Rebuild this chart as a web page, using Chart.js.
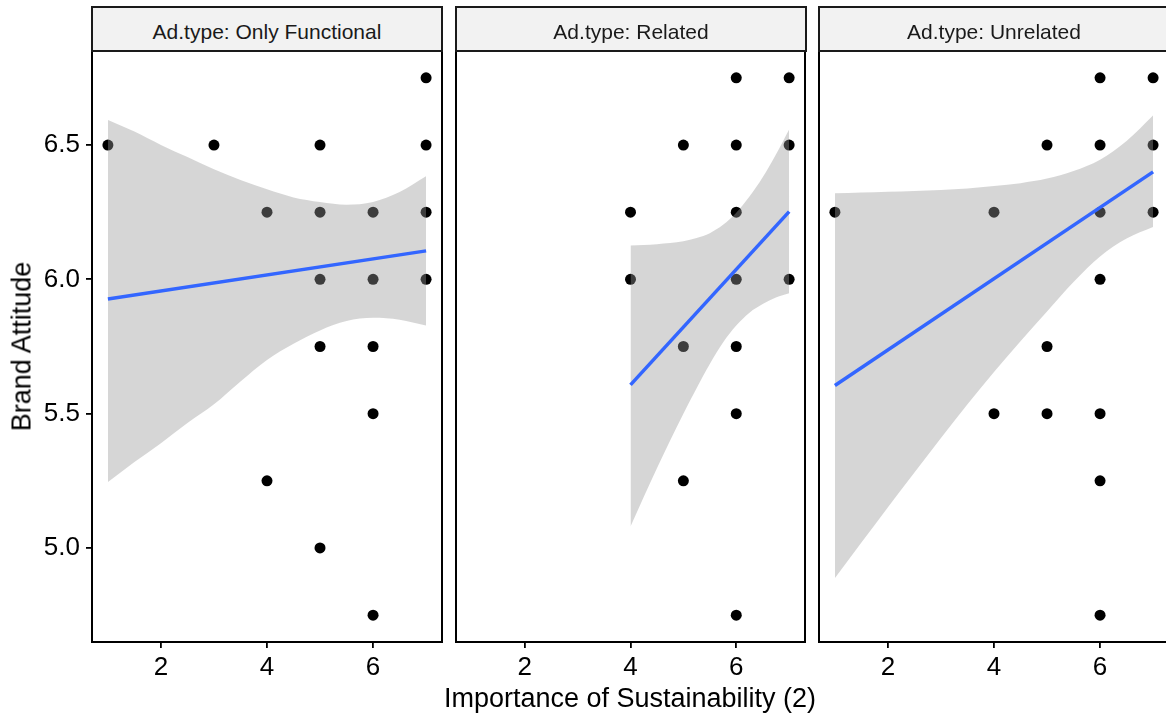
<!DOCTYPE html>
<html>
<head>
<meta charset="utf-8">
<script src="https://cdn.jsdelivr.net/npm/chart.js@4/dist/chart.umd.min.js"></script>
<style>
html,body{margin:0;padding:0;width:1166px;height:722px;overflow:hidden;background:#fff;font-family:"Liberation Sans",Arial,sans-serif;}
canvas{position:absolute;left:0;top:0;}
.strip{position:absolute;top:6px;height:46px;box-sizing:border-box;border:2px solid #1a1a1a;background:#f2f2f2;color:#1a1a1a;font-size:21px;line-height:21px;text-align:center;padding-top:13px;white-space:nowrap;z-index:2;}
.title{position:absolute;font-size:27px;line-height:27px;color:#000;text-align:center;white-space:nowrap;z-index:2;}
</style>
</head>
<body>
<canvas id="c1" width="1166" height="722"></canvas>
<canvas id="c2" width="1166" height="722"></canvas>
<canvas id="c3" width="1176" height="722"></canvas>
<div id="strips"></div>
<div class="title" id="ytitle" style="left:-178px;top:333px;width:400px;height:27px;transform:rotate(-90deg);">Brand Attitude</div>
<div class="title" id="xtitle" style="left:330px;top:685px;width:600px;">Importance of Sustainability (2)</div>
<script>
// ---- data ----
const panelTitles = ['Ad.type: Only Functional', 'Ad.type: Related', 'Ad.type: Unrelated'];
const xTickValues = [2, 4, 6];
const yTickValues = [5.0, 5.5, 6.0, 6.5];

// Only Functional
const funcX = [1, 3, 5, 7, 7, 4, 5, 6, 7, 5, 6, 7, 5, 6, 6, 4, 5, 6];
const funcY = [6.5, 6.5, 6.5, 6.5, 6.75, 6.25, 6.25, 6.25, 6.25, 6.0, 6.0, 6.0, 5.75, 5.75, 5.5, 5.25, 5.0, 4.75];
const funcBandX = [1, 1.5, 2, 2.5, 3, 3.5, 4, 4.5, 5, 5.5, 6, 6.5, 7];
const funcUpper = [6.593, 6.55, 6.50, 6.455, 6.41, 6.37, 6.335, 6.305, 6.288, 6.278, 6.288, 6.325, 6.384];
const funcLower = [5.245, 5.32, 5.39, 5.465, 5.535, 5.62, 5.70, 5.76, 5.81, 5.845, 5.857, 5.85, 5.828];
const funcFitX = [1, 7];
const funcFitY = [5.927, 6.106];

// Related
const relX = [6, 7, 5, 6, 7, 4, 6, 4, 6, 7, 5, 6, 6, 5, 6];
const relY = [6.75, 6.75, 6.5, 6.5, 6.5, 6.25, 6.25, 6.0, 6.0, 6.0, 5.75, 5.75, 5.5, 5.25, 4.75];
const relBandX = [4, 4.25, 4.5, 4.75, 5, 5.25, 5.5, 5.75, 6, 6.25, 6.5, 6.75, 7];
const relUpper = [6.126, 6.128, 6.131, 6.135, 6.142, 6.154, 6.172, 6.203, 6.248, 6.308, 6.38, 6.465, 6.558];
const relLower = [5.08, 5.19, 5.297, 5.40, 5.50, 5.595, 5.685, 5.765, 5.828, 5.876, 5.908, 5.932, 5.948];
const relFitX = [4, 7];
const relFitY = [5.607, 6.252];

// Unrelated
const unrelX = [6, 7, 5, 6, 7, 1, 4, 6, 7, 6, 5, 4, 5, 6, 6, 6];
const unrelY = [6.75, 6.75, 6.5, 6.5, 6.5, 6.25, 6.25, 6.25, 6.25, 6.0, 5.75, 5.5, 5.5, 5.5, 5.25, 4.75];
const unrelBandX = [1, 1.5, 2, 2.5, 3, 3.5, 4, 4.5, 5, 5.5, 6, 6.5, 7];
const unrelUpper = [6.32, 6.323, 6.326, 6.329, 6.333, 6.338, 6.347, 6.358, 6.375, 6.403, 6.445, 6.515, 6.61];
const unrelLower = [4.888, 5.02, 5.152, 5.281, 5.409, 5.535, 5.655, 5.77, 5.88, 5.99, 6.085, 6.152, 6.195];
const unrelFitX = [1, 7];
const unrelFitY = [5.605, 6.40];

// ---- rendering ----
Chart.defaults.font.family = "'Liberation Sans', Arial, sans-serif";
Chart.defaults.color = '#000';

const pts = (xs, ys) => xs.map((x, i) => ({x: x, y: ys[i]}));

const frame = {
  id: 'frame',
  afterDatasetsDraw(chart) {
    const a = chart.chartArea, ctx = chart.ctx;
    ctx.save();
    ctx.strokeStyle = '#000';
    ctx.lineWidth = 2;
    ctx.strokeRect(a.left, a.top, a.right - a.left, a.bottom - a.top);
    ctx.restore();
  }
};

const panels = [
  {id: 'c1', padL: 0, padR: 1166 - 442, showY: true, x: funcX, y: funcY, bx: funcBandX, bu: funcUpper, bl: funcLower, fx: funcFitX, fy: funcFitY},
  {id: 'c2', padL: 456, padR: 1166 - 805, showY: false, x: relX, y: relY, bx: relBandX, bu: relUpper, bl: relLower, fx: relFitX, fy: relFitY},
  {id: 'c3', padL: 819, padR: 1176 - 1169, showY: false, x: unrelX, y: unrelY, bx: unrelBandX, bu: unrelUpper, bl: unrelLower, fx: unrelFitX, fy: unrelFitY}
];

panels.forEach((p, k) => {
  new Chart(document.getElementById(p.id), {
    type: 'scatter',
    data: {
      datasets: [
        {type: 'scatter', data: pts(p.x, p.y), pointRadius: 5.5, pointBorderWidth: 0, backgroundColor: '#000', order: 3},
        {type: 'line', data: pts(p.bx, p.bu), pointRadius: 0, borderWidth: 0, borderColor: 'rgba(0,0,0,0)',
         fill: '+1', backgroundColor: 'rgba(153,153,153,0.4)', cubicInterpolationMode: 'monotone', order: 2},
        {type: 'line', data: pts(p.bx, p.bl), pointRadius: 0, borderWidth: 0, borderColor: 'rgba(0,0,0,0)',
         fill: false, cubicInterpolationMode: 'monotone', order: 2},
        {type: 'line', data: pts(p.fx, p.fy), pointRadius: 0, borderWidth: 3.5, borderColor: '#3366FF', fill: false, order: 1}
      ]
    },
    options: {
      responsive: false,
      animation: false,
      events: [],
      layout: {padding: {left: p.padL, right: p.padR, top: 51, bottom: 0}},
      plugins: {legend: {display: false}, tooltip: {enabled: false}},
      scales: {
        x: {
          type: 'linear', min: 0.7, max: 7.3,
          afterBuildTicks: s => { s.ticks = xTickValues.map(v => ({value: v})); },
          afterFit: s => { s.height = 80; },
          grid: {drawOnChartArea: false, drawTicks: true, tickLength: 6, color: '#000', lineWidth: 1.8},
          border: {display: false},
          ticks: {font: {size: 26}, color: '#000', padding: 4, callback: v => String(v)}
        },
        y: {
          type: 'linear', min: 4.65, max: 6.85, display: p.showY,
          afterBuildTicks: s => { s.ticks = yTickValues.map(v => ({value: v})); },
          afterFit: s => { s.width = p.showY ? 92 : 0; },
          grid: {drawOnChartArea: false, drawTicks: true, tickLength: 6, color: '#000', lineWidth: 1.8},
          border: {display: false},
          ticks: {font: {size: 26}, color: '#000', padding: 6, callback: v => Number(v).toFixed(1)}
        }
      }
    },
    plugins: [frame]
  });
});

// strip headers
const stripLefts = [91, 455, 818];
const stripHolder = document.getElementById('strips');
panelTitles.forEach((t, i) => {
  const d = document.createElement('div');
  d.className = 'strip';
  d.style.left = stripLefts[i] + 'px';
  d.style.width = '352px';
  d.textContent = t;
  stripHolder.appendChild(d);
});
</script>
</body>
</html>
